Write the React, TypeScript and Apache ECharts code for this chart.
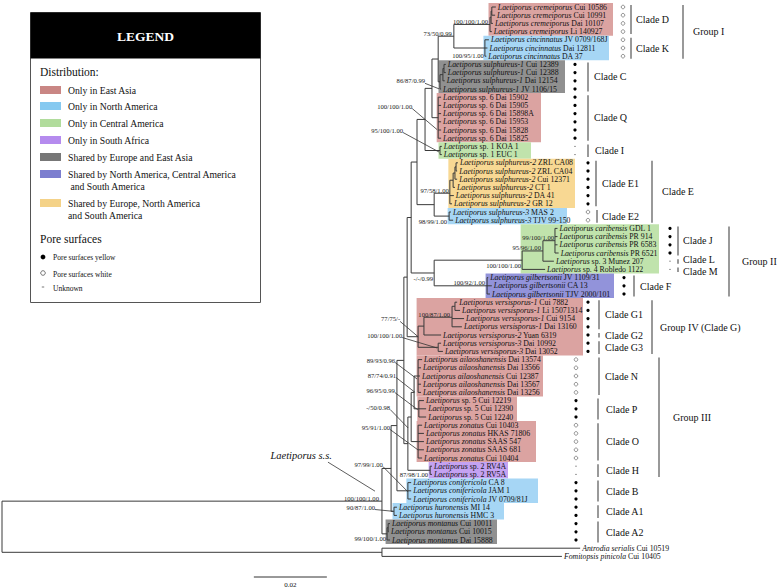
import { useEffect, useRef } from "react";
import * as echarts from "echarts";

// ---------------- DATA ----------------
// tips, top to bottom: [italic part, roman part]
const taxa: [string, string][] = [
  ["Laetiporus cremeiporus", "Cui 10586"],
  ["Laetiporus cremeiporus", "Cui 10991"],
  ["Laetiporus cremeiporus", "Dai 10107"],
  ["Laetiporus cremeiporus", "Li 140927"],
  ["Laetiporus cincinnatus", "JV 0709/168J"],
  ["Laetiporus cincinnatus", "Dai 12811"],
  ["Laetiporus cincinnatus", "DA 37"],
  ["Laetiporus sulphureus-1", "Cui 12389"],
  ["Laetiporus sulphureus-1", "Cui 12388"],
  ["Laetiporus sulphureus-1", "Dai 12154"],
  ["Laetiporus sulphureus-1", "JV 1106/15"],
  ["Laetiporus", "sp. 6 Dai 15902"],
  ["Laetiporus", "sp. 6 Dai 15905"],
  ["Laetiporus", "sp. 6 Dai 15898A"],
  ["Laetiporus", "sp. 6 Dai 15953"],
  ["Laetiporus", "sp. 6 Dai 15828"],
  ["Laetiporus", "sp. 6 Dai 15825"],
  ["Laetiporus", "sp. 1 KOA 1"],
  ["Laetiporus", "sp. 1 EUC 1"],
  ["Laetiporus sulphureus-2", "ZRL CA08"],
  ["Laetiporus sulphureus-2", "ZRL CA04"],
  ["Laetiporus sulphureus-2", "Cui 12371"],
  ["Laetiporus sulphureus-2", "CT 1"],
  ["Laetiporus sulphureus-2", "DA 41"],
  ["Laetiporus sulphureus-2", "GR 12"],
  ["Laetiporus sulphureus-3", "MAS 2"],
  ["Laetiporus sulphureus-3", "TJV 99-150"],
  ["Laetiporus caribensis", "GDL 1"],
  ["Laetiporus caribensis", "PR 914"],
  ["Laetiporus caribensis", "PR 6583"],
  ["Laetiporus caribensis", "PR 6521"],
  ["Laetiporus", "sp. 3 Munez 207"],
  ["Laetiporus", "sp. 4 Robledo 1122"],
  ["Laetiporus gilbertsonii", "JV 1109/31"],
  ["Laetiporus gilbertsonii", "CA 13"],
  ["Laetiporus gilbertsonii", "TJV 2000/101"],
  ["Laetiporus versisporus-1", "Cui 7882"],
  ["Laetiporus versisporus-1", "Li 15071314"],
  ["Laetiporus versisporus-1", "Cui 9154"],
  ["Laetiporus versisporus-1", "Dai 13160"],
  ["Laetiporus versisporus-2", "Yuan 6319"],
  ["Laetiporus versisporus-3", "Dai 10992"],
  ["Laetiporus versisporus-3", "Dai 13052"],
  ["Laetiporus ailaoshanensis", "Dai 13574"],
  ["Laetiporus ailaoshanensis", "Dai 13566"],
  ["Laetiporus ailaoshanensis", "Cui 12387"],
  ["Laetiporus ailaoshanensis", "Dai 13567"],
  ["Laetiporus ailaoshanensis", "Dai 13256"],
  ["Laetiporus", "sp. 5 Cui 12219"],
  ["Laetiporus", "sp. 5 Cui 12390"],
  ["Laetiporus", "sp. 5 Cui 12240"],
  ["Laetiporus zonatus", "Cui 10403"],
  ["Laetiporus zonatus", "HKAS 71806"],
  ["Laetiporus zonatus", "SAAS 547"],
  ["Laetiporus zonatus", "SAAS 681"],
  ["Laetiporus zonatus", "Cui 10404"],
  ["Laetiporus", "sp. 2 RV4A"],
  ["Laetiporus", "sp. 2 RV5A"],
  ["Laetiporus conifericola", "CA 8"],
  ["Laetiporus conifericola", "JAM 1"],
  ["Laetiporus conifericola", "JV 0709/81J"],
  ["Laetiporus huronensis", "MI 14"],
  ["Laetiporus huronensis", "HMC 3"],
  ["Laetiporus montanus", "Cui 10011"],
  ["Laetiporus montanus", "Cui 10015"],
  ["Laetiporus montanus", "Dai 15888"],
  ["Antrodia serialis", "Cui 10519"],
  ["Fomitopsis pinicola", "Cui 10405"],
];

// tree: node depth from root (substitutions/site); T(depth, tip index)
type TNode = { d: number; c?: TNode[]; t?: number; k?: string; y?: number };
const N = (d: number, c: TNode[], k?: string): TNode => ({ d, c, k });
const T = (d: number, t: number): TNode => ({ d, t });

const tree: TNode = N(0, [
  N(0.1041, [
    N(0.1066, [
      N(0.1082, [
        N(0.1101, [
          N(0.1110, [
            N(0.1121, [
              N(0.1137, [
                N(0.1159, [
                  N(0.1178, [
                    N(0.1195, [
                      N(0.1238, [
                        N(0.1337, [N(0.1340, [N(0.1342, [T(0.1353, 0), T(0.1351, 1)]), T(0.1345, 2)]), T(0.1342, 3)], "crem"),
                        N(0.1323, [T(0.1334, 4), T(0.1330, 5), T(0.1327, 6)], "cinc"),
                      ], "g1"),
                      N(0.1200, [N(0.1208, [N(0.1211, [T(0.1216, 7), T(0.1216, 8)]), T(0.1213, 9)]), T(0.1203, 10)], "s1"),
                    ]),
                    N(0.1195, [T(0.1203, 11), T(0.1203, 12), T(0.1203, 13), T(0.1203, 14), T(0.1203, 15), T(0.1203, 16)], "sp6"),
                  ]),
                  N(0.1200, [T(0.1205, 17), T(0.1205, 18)], "sp1"),
                ]),
                N(0.1184, [
                  N(0.1227, [N(0.1236, [N(0.1241, [N(0.1244, [T(0.1249, 19), T(0.1247, 20)]), T(0.1247, 21)]), T(0.1241, 22)]), T(0.1238, 23), T(0.1233, 24)], "s2"),
                  N(0.1225, [T(0.1230, 25), T(0.1236, 26)], "s3"),
                ]),
              ]),
              N(0.1184, [
                N(0.1425, [N(0.1482, [N(0.1515, [T(0.1522, 27), T(0.1522, 28), T(0.1522, 29), T(0.1525, 30)], "J"), T(0.1512, 31)], "G2"), T(0.1488, 32)], "G3"),
                N(0.1329, [T(0.1332, 33), T(0.1342, 34), T(0.1337, 35)], "gil"),
              ], "F"),
            ]),
            N(0.1140, [
              N(0.1156, [N(0.1233, [N(0.1241, [T(0.1247, 36), T(0.1255, 37)]), T(0.1266, 38), T(0.1260, 39)], "V1"), T(0.1203, 40)]),
              N(0.1195, [T(0.1203, 41), T(0.1208, 42)], "V3"),
            ], "V"),
          ]),
          N(0.1112, [
            N(0.1121, [
              N(0.1129, [
                N(0.1140, [T(0.1151, 43), T(0.1148, 44), T(0.1145, 45), T(0.1148, 46), T(0.1148, 47)], "ail"),
                N(0.1142, [T(0.1156, 48), T(0.1162, 49), T(0.1162, 50)], "sp5"),
              ], "N1"),
              N(0.1140, [T(0.1151, 51), T(0.1156, 52), T(0.1156, 53), T(0.1156, 54), T(0.1151, 55)], "zon"),
            ], "N2"),
            N(0.1173, [T(0.1178, 56), T(0.1178, 57)], "sp2"),
          ]),
        ]),
        N(0.1112, [T(0.1121, 58), T(0.1121, 59), T(0.1121, 60)], "con"),
      ]),
      N(0.1074, [T(0.1082, 61), T(0.1082, 62)], "hur"),
    ]),
    N(0.1055, [N(0.1058, [T(0.1063, 63), T(0.1060, 64)]), T(0.1063, 65)], "mon"),
  ], "crown"),
  N(0.1041, [T(0.1584, 66), T(0.1534, 67)]),
]);

// bootstrap / bootstrap / posterior probability
const supportValues: Record<string, string> = {
  crown: "100/100/1.00", crem: "100/100/1.00", cinc: "100/95/1.00", g1: "73/50/0.99",
  s1: "86/87/0.99", sp6: "100/100/1.00", sp1: "95/100/1.00", s2: "97/58/1.00",
  s3: "98/99/1.00", J: "99/100/1.00", G2: "95/96/1.00", G3: "100/100/1.00",
  F: "-/-/0.99", gil: "100/92/1.00", V1: "100/87/1.00", V: "77/75/-",
  V3: "100/100/1.00", ail: "89/93/0.96", N1: "87/74/0.91", sp5: "96/95/0.99",
  N2: "-/50/0.98", zon: "95/91/1.00", sp2: "87/98/1.00", con: "97/99/1.00",
  hur: "90/87/1.00", mon: "99/100/1.00",
};

// pore surface per Laetiporus tip: y yellow, w white, u unknown
const poreSurface =
  "wwwwwww" + "yyyyyyyyyy" + "uu" + "yyyyyy" + "ww" + "yyyy" + "uu" + "yyy" +
  "yyyyyyy" + "wwwww" + "yyy" + "wwwww" + "uu" + "yyyyyyyy";

// distribution boxes: [clade node, first tip, last tip, region]
const distributionBoxes: [string, number, number, string][] = [
  ["crem", 0, 3, "EA"], ["cinc", 4, 6, "NA"], ["s1", 7, 10, "EUEA"], ["sp6", 11, 16, "EA"],
  ["sp1", 17, 18, "CA"], ["s2", 19, 24, "EUNASA"], ["s3", 25, 26, "NA"], ["G3", 27, 32, "CA"],
  ["gil", 33, 35, "NACASA"], ["V", 36, 42, "EA"], ["ail", 43, 47, "EA"], ["sp5", 48, 50, "EA"],
  ["zon", 51, 55, "EA"], ["sp2", 56, 57, "SAF"], ["con", 58, 60, "NA"], ["hur", 61, 62, "NA"],
  ["mon", 63, 65, "EUEA"],
];

const regionKeys = ["EA", "NA", "CA", "SAF", "EUEA", "NACASA", "EUNASA"];
const regionLabels = [
  ["Only in East Asia"], ["Only in North America"], ["Only in Central America"],
  ["Only in South Africa"], ["Shared by Europe and East Asia"],
  ["Shared by North America, Central America", " and South America"],
  ["Shared by Europe, North America", "and South America"],
];

const cladeNames = [
  "Clade D", "Clade K", "Group I", "Clade C", "Clade Q", "Clade I", "Clade E1", "Clade E2",
  "Clade E", "Clade J", "Clade L", "Clade M", "Group II", "Clade F", "Clade G1", "Clade G2",
  "Clade G3", "Group IV (Clade G)", "Clade N", "Group III", "Clade P", "Clade O", "Clade H",
  "Clade B", "Clade A1", "Clade A2",
];
const cladeRanges: [number, number][] = [
  [0, 3], [4, 6], [0, 6], [7, 10], [11, 16], [17, 18], [19, 24], [25, 26],
  [19, 26], [27, 30], [31, 31], [32, 32], [27, 35], [33, 35], [36, 39], [40, 40],
  [41, 42], [36, 42], [43, 47], [43, 57], [48, 50], [51, 55], [56, 57],
  [58, 60], [61, 62], [63, 65],
];

const scaleBarLength = 0.02;

// ---------------- LAYOUT / STYLE ----------------
const W = 778, H = 588;
const SERIF = '"Liberation Serif", "Times New Roman", serif';
const boxFill: Record<string, string> = {
  EA: "#dba3a1", NA: "#a6d6f5", CA: "#c0e3ac", SAF: "#c4a2f2",
  EUEA: "#909090", NACASA: "#9293da", EUNASA: "#f8d893",
};
const swatchFill: Record<string, string> = {
  EA: "#c98684", NA: "#86c9f0", CA: "#b1dc9c", SAF: "#b58bee",
  EUEA: "#777777", NACASA: "#7c7ecf", EUNASA: "#f4d288",
};
const boxRight = [613, 609, 565, 541, 531, 575, 567, 659, 614, 583, 543, 517, 536, 508, 538, 504, 497];
const poreColumns: [number, number, number][] = [
  [0, 6, 623], [7, 18, 575], [19, 26, 588], [27, 32, 670], [33, 35, 624], [36, 42, 588], [43, 65, 576],
];
// [bar x, label x, label dy]
const cladeLayout: [number, number, number][] = [
  [631, 636, 0], [631, 636, 0], [683, 693, 0], [588, 594, 0], [588, 594, 0], [588, 595, 0], [596, 602, 0], [597, 602, 0],
  [652, 662, 0], [678, 683, 0], [678, 683, -1.6], [678, 683, 1.6], [729, 742, 0], [634, 640, 0], [599, 605, 0], [599, 605, 0],
  [599, 605, 0], [652, 660, 0], [599, 605, 0], [659, 673, 0], [598, 606, 0], [598, 606, 0], [598, 606, 0],
  [598, 606, 0], [598, 606, 0], [598, 606, 0],
];
// [dx, dy] label offset from node; optional [tdx, tdy] leader line end offset
const supportPlacement: Record<string, number[]> = {
  crown: [-3, -3], crem: [-2, -3.4], cinc: [-1, 7], g1: [-2, -3.2],
  s1: [-15, -1, -1, 7], sp6: [-26, -11.7, -1, 12], sp1: [-37, -20.5, -1, 1.5],
  s2: [-1, -3], s3: [-2, 5], J: [-1, -3], G2: [-2, -3], G3: [-1, 5], F: [-1, 6],
  gil: [-2, -3], V1: [-2, -3], V: [-18, -17.8, 0, 0], V3: [-36, -12.3, -1, 0.7],
  ail: [-23, -16, -1, 3], N1: [-18, -17.4, 1, 0], sp5: [-24, -18.8, -1, 1],
  N2: [-21, -10, -3, 11], zon: [-28, -14.6, 0, 8.4], sp2: [-2, 4],
  con: [-25, -26.8, 0, 1], hur: [-19, -4.3, -1, 0], mon: [-1, 5],
};

function layoutTree(root: TNode) {
  const segs: number[][] = [];
  const nodes: Record<string, TNode> = {};
  const tipDepth: number[] = [];
  const walk = (n: TNode): number => {
    if (n.t !== undefined) {
      n.y = n.t;
      tipDepth[n.t] = n.d;
      return n.y;
    }
    const ys = n.c!.map(walk);
    n.y = ys.reduce((a, b) => a + b, 0) / ys.length;
    segs.push([n.d, Math.min(...ys), n.d, Math.max(...ys)]);
    n.c!.forEach((ch) => segs.push([n.d, ch.y!, ch.d, ch.y!]));
    if (n.k) nodes[n.k] = n;
    return n.y;
  };
  walk(root);
  return { segs, nodes, tipDepth };
}

function txt(text: string, x: number, y: number, size: number, extra: any = {}) {
  return {
    type: "text",
    x, y,
    style: {
      text, fontSize: size, fontFamily: SERIF, fill: "#111",
      align: "left", verticalAlign: "middle", textAlign: "left", textVerticalAlign: "middle",
      ...extra,
    },
  };
}

export default function App() {
  const ref = useRef<HTMLDivElement>(null);
  useEffect(() => {
    if (!ref.current) return;
    const chart = echarts.init(ref.current, undefined, { renderer: "svg" });
    const { segs, nodes, tipDepth } = layoutTree(tree);
    const dummy = (n: number) => Array.from({ length: n }, () => [0, 0]);
    const yPx = (api: any, v: number) => api.coord([0, v])[1];

    const legend: any[] = [
      { type: "rect", shape: { x: 30.5, y: 12.5, width: 230, height: 290 }, style: { fill: "#fff", stroke: "#555", lineWidth: 1 } },
      { type: "rect", shape: { x: 30.5, y: 12.5, width: 230, height: 46 }, style: { fill: "#000" } },
      txt("LEGEND", 145.5, 36, 13.5, { fill: "#fff", fontWeight: "bold", align: "center", textAlign: "center" }),
      txt("Distribution:", 40, 72, 11.5),
      txt("Pore surfaces", 40, 239, 11.5),
    ];
    const swY = [90, 106, 123, 140, 157, 174, 203];
    regionKeys.forEach((k, i) => {
      legend.push({ type: "rect", shape: { x: 40, y: swY[i] - 4, width: 21, height: 8 }, style: { fill: swatchFill[k] } });
      legend.push(txt(regionLabels[i][0], 68, swY[i], 9.7));
      if (regionLabels[i][1]) legend.push(txt(regionLabels[i][1], 68, swY[i] + 12, 9.7));
    });
    legend.push({ type: "circle", shape: { cx: 43, cy: 257, r: 2.4 }, style: { fill: "#000" } });
    legend.push(txt("Pore surfaces yellow", 53, 257, 7.5));
    legend.push({ type: "circle", shape: { cx: 43, cy: 273, r: 2.3 }, style: { fill: "#fff", stroke: "#555", lineWidth: 0.8 } });
    legend.push(txt("Pore surfaces white", 53, 274, 7.5));
    legend.push({ type: "line", shape: { x1: 41.8, y1: 287, x2: 44.2, y2: 287 }, style: { stroke: "#666", lineWidth: 0.9 } });
    legend.push(txt("Unknown", 53, 288, 7.5));

    const option: any = {
      animation: false,
      backgroundColor: "#fff",
      grid: { left: 0, right: 0, top: 0, bottom: 0, containLabel: false },
      xAxis: { type: "value", min: -2 / 3650, max: 776 / 3650, show: false },
      yAxis: { type: "value", min: -7 / 8.2, max: 581 / 8.2, inverse: true, show: false },
      graphic: { elements: legend },
      series: [
        // distribution boxes
        {
          type: "custom", coordinateSystem: "cartesian2d", silent: true, z: 1, clip: false,
          data: dummy(distributionBoxes.length),
          renderItem: (p: any, api: any) => {
            const [k, a, b, r] = distributionBoxes[p.dataIndex];
            const node = nodes[k];
            const x0 = api.coord([node.d, 0])[0] - 1.5;
            const y0 = yPx(api, a - 0.5), y1 = yPx(api, b + 0.5);
            return { type: "rect", shape: { x: x0, y: y0, width: boxRight[p.dataIndex] - x0, height: y1 - y0 }, style: { fill: boxFill[r] } };
          },
        },
        // branches
        {
          type: "custom", coordinateSystem: "cartesian2d", silent: true, z: 2, clip: false,
          data: segs,
          renderItem: (p: any, api: any) => {
            const s = segs[p.dataIndex];
            const a = api.coord([s[0], s[1]]);
            const b = api.coord([s[2], s[3]]);
            return { type: "line", shape: { x1: a[0], y1: a[1], x2: b[0], y2: b[1] }, style: { stroke: "#3a3a3a", lineWidth: 1 } };
          },
        },
        // tip labels
        {
          type: "custom", coordinateSystem: "cartesian2d", silent: true, z: 3, clip: false,
          data: dummy(taxa.length),
          renderItem: (p: any, api: any) => {
            const i = p.dataIndex;
            const pt = api.coord([tipDepth[i], i]);
            return {
              type: "text", x: pt[0] + 2, y: pt[1],
              style: {
                text: `{i|${taxa[i][0]}}{r| ${taxa[i][1]}}`,
                rich: {
                  i: { fontFamily: SERIF, fontStyle: "italic", fontSize: 7.8, fill: "#111" },
                  r: { fontFamily: SERIF, fontSize: 7.8, fill: "#111" },
                },
                fontSize: 7.8, fontFamily: SERIF, fill: "#111",
                align: "left", verticalAlign: "middle", textAlign: "left", textVerticalAlign: "middle",
              },
            };
          },
        },
        // support values
        {
          type: "custom", coordinateSystem: "cartesian2d", silent: true, z: 4, clip: false,
          data: dummy(Object.keys(supportValues).length),
          renderItem: (p: any, api: any) => {
            const k = Object.keys(supportValues)[p.dataIndex];
            const node = nodes[k];
            const pt = api.coord([node.d, node.y]);
            const pl = supportPlacement[k];
            const tx = pt[0] + pl[0], ty = pt[1] + pl[1];
            const children: any[] = [{
              type: "text", x: tx, y: ty,
              style: { text: supportValues[k], fontSize: 6.6, fontFamily: SERIF, fill: "#222", align: "right", verticalAlign: "middle", textAlign: "right", textVerticalAlign: "middle" },
            }];
            if (pl.length > 2) {
              children.push({ type: "line", shape: { x1: tx, y1: ty + 2.5, x2: pt[0] + pl[2], y2: pt[1] + pl[3] }, style: { stroke: "#333", lineWidth: 0.8 } });
            }
            return { type: "group", children };
          },
        },
        // Laetiporus s.s. annotation
        {
          type: "custom", coordinateSystem: "cartesian2d", silent: true, z: 4, clip: false,
          data: dummy(1),
          renderItem: (p: any, api: any) => {
            const node = nodes["crown"];
            const pt = api.coord([node.d, node.y]);
            return {
              type: "group",
              children: [
                { type: "text", x: pt[0] - 50, y: pt[1] - 46, style: { text: "Laetiporus s.s.", fontSize: 10.5, fontStyle: "italic", fontFamily: SERIF, fill: "#111", align: "right", verticalAlign: "middle", textAlign: "right", textVerticalAlign: "middle" } },
                { type: "line", shape: { x1: pt[0] - 54, y1: pt[1] - 39, x2: pt[0] - 7, y2: pt[1] - 10 }, style: { stroke: "#333", lineWidth: 0.8 } },
              ],
            };
          },
        },
        // pore surface markers
        {
          type: "custom", coordinateSystem: "cartesian2d", silent: true, z: 4, clip: false,
          data: dummy(poreSurface.length),
          renderItem: (p: any, api: any) => {
            const i = p.dataIndex;
            const col = poreColumns.find((c) => i >= c[0] && i <= c[1])!;
            const x = col[2];
            const y = yPx(api, i);
            const s = poreSurface[i];
            if (s === "y") return { type: "circle", shape: { cx: x, cy: y, r: 1.6 }, style: { fill: "#000" } };
            if (s === "w") return { type: "circle", shape: { cx: x, cy: y, r: 1.8 }, style: { fill: "#fff", stroke: "#666", lineWidth: 0.7 } };
            return { type: "line", shape: { x1: x - 0.9, y1: y, x2: x + 0.9, y2: y }, style: { stroke: "#777", lineWidth: 0.8 } };
          },
        },
        // clade bars & labels
        {
          type: "custom", coordinateSystem: "cartesian2d", silent: true, z: 4, clip: false,
          data: dummy(cladeNames.length),
          renderItem: (p: any, api: any) => {
            const i = p.dataIndex;
            const [a, b] = cladeRanges[i];
            const [bx, lx, ldy] = cladeLayout[i];
            const y0 = yPx(api, a) - 2, y1 = yPx(api, b) + 2.5;
            return {
              type: "group",
              children: [
                { type: "line", shape: { x1: bx, y1: y0, x2: bx, y2: y1 }, style: { stroke: "#555", lineWidth: 1.2 } },
                { type: "text", x: lx, y: (y0 + y1) / 2 + ldy, style: { text: cladeNames[i], fontSize: 10, fontFamily: SERIF, fill: "#111", align: "left", verticalAlign: "middle", textAlign: "left", textVerticalAlign: "middle" } },
              ],
            };
          },
        },
        // scale bar
        {
          type: "custom", coordinateSystem: "cartesian2d", silent: true, z: 4, clip: false,
          data: dummy(1),
          renderItem: (p: any, api: any) => {
            const start = 0.069;
            const a = api.coord([start, 0])[0];
            const b = api.coord([start + scaleBarLength, 0])[0];
            return {
              type: "group",
              children: [
                { type: "line", shape: { x1: a, y1: 577, x2: b, y2: 577 }, style: { stroke: "#333", lineWidth: 1 } },
                { type: "text", x: (a + b) / 2, y: 585, style: { text: String(scaleBarLength), fontSize: 7, fontFamily: SERIF, fill: "#111", align: "center", verticalAlign: "middle", textAlign: "center", textVerticalAlign: "middle" } },
              ],
            };
          },
        },
      ],
    };
    chart.setOption(option);
    return () => chart.dispose();
  }, []);
  return <div ref={ref} style={{ position: "absolute", left: 0, top: 0, width: W, height: H, background: "#fff" }} />;
}
